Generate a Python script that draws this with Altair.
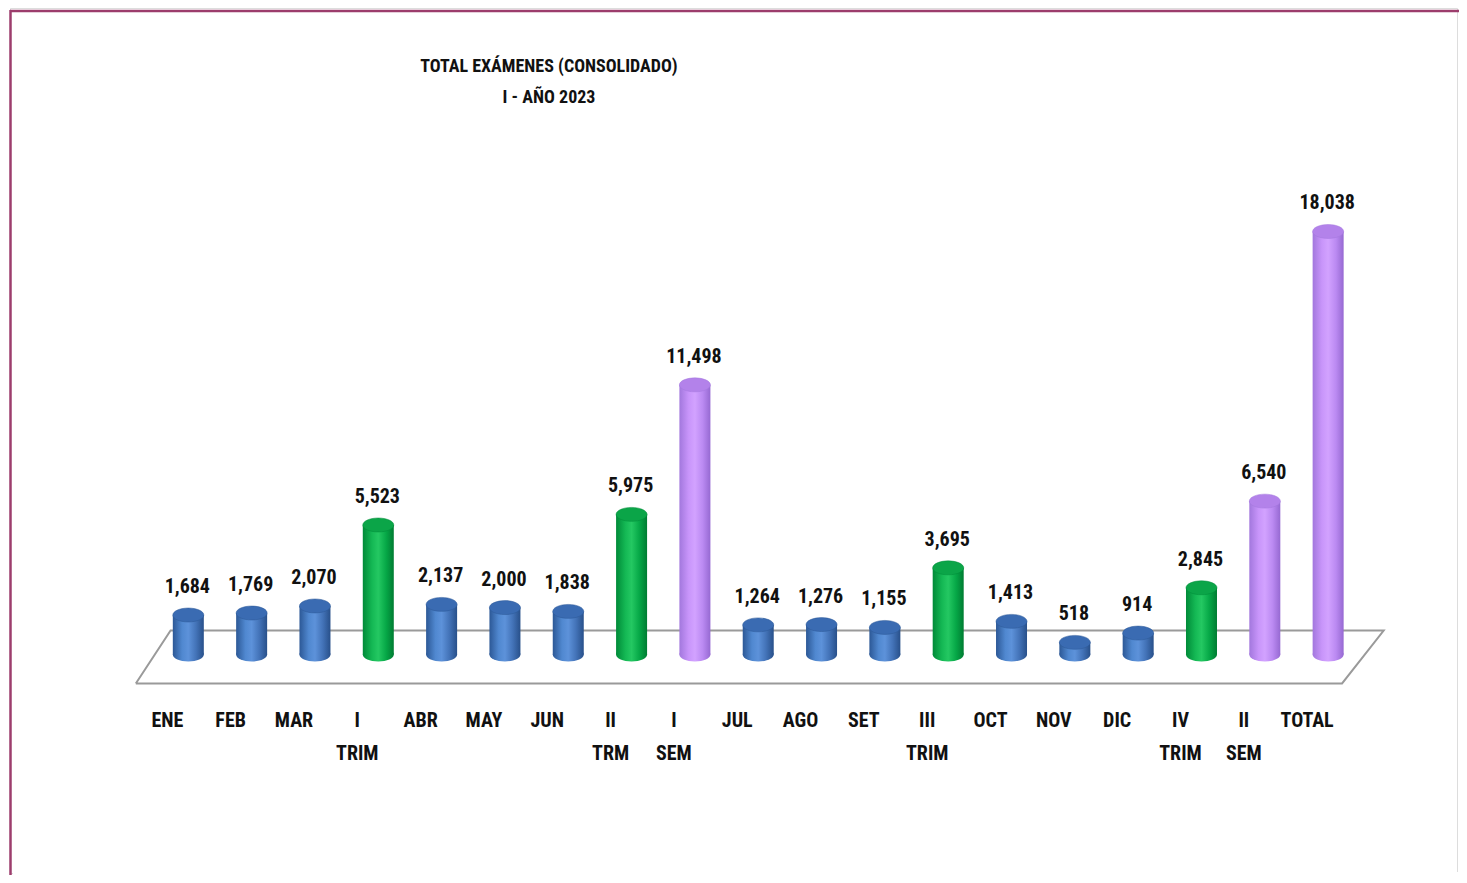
import altair as alt
import pandas as pd

# ---- data ----
categories = ["ENE", "FEB", "MAR", "I\nTRIM", "ABR", "MAY", "JUN", "II\nTRM", "I\nSEM",
              "JUL", "AGO", "SET", "III\nTRIM", "OCT", "NOV", "DIC", "IV\nTRIM", "II\nSEM", "TOTAL"]
values = [1684, 1769, 2070, 5523, 2137, 2000, 1838, 5975, 11498,
          1264, 1276, 1155, 3695, 1413, 518, 914, 2845, 6540, 18038]
kinds = ["mes", "mes", "mes", "trim", "mes", "mes", "mes", "trim", "sem",
         "mes", "mes", "mes", "trim", "mes", "mes", "mes", "trim", "sem", "sem"]
title_lines = ["TOTAL EXÁMENES (CONSOLIDADO)", "I - AÑO 2023"]

df = pd.DataFrame({
    "idx": list(range(len(categories))),
    "cat": categories,
    "value": values,
    "kind": kinds,
})
df["label"] = df["value"].map(lambda v: f"{v:,}")

W, H = 1451, 867
X_DOMAIN = [-2.737, 19.956]
Y_DOMAIN = [-9317, 27567]

x = alt.X("idx:Q", axis=None, scale=alt.Scale(domain=X_DOMAIN, nice=False, zero=False))
y = alt.Y("value:Q", axis=None, scale=alt.Scale(domain=Y_DOMAIN, nice=False, zero=False))

FONT = "Roboto Condensed, Noto Sans Condensed, Roboto, sans-serif"
ELLIPSE = "M-1,0A1,0.45,0,1,1,1,0A1,0.45,0,1,1,-1,0Z"
BAR_W = 31

styles = {
    "mes": (["#2c5896", "#5088d0", "#5d92da", "#4373b8", "#28508a"], "#3a6bb2"),
    "trim": (["#008a38", "#14b854", "#24c862", "#06a847", "#007c32"], "#0ba548"),
    "sem": (["#a277dd", "#c895fa", "#d2a2ff", "#bb8af2", "#9669d2"], "#b382ea"),
}

def grad(cols):
    offs = [0, 0.3, 0.5, 0.75, 1]
    return alt.Gradient(gradient="linear", x1=0, x2=1, y1=0, y2=0,
                        stops=[alt.GradientStop(color=c, offset=o) for c, o in zip(cols, offs)])

# floor parallelogram (decoration)
floor = pd.DataFrame({
    "fx": [-0.829, 18.22, 18.877, -0.28, -0.829],
    "fy": [-1234, -1234, 1021, 1021, -1234],
    "o": [0, 1, 2, 3, 4],
})
floor_layer = alt.Chart(floor).mark_line(color="#9a9a9a", strokeWidth=2).encode(
    x=alt.X("fx:Q", axis=None, scale=alt.Scale(domain=X_DOMAIN, nice=False, zero=False)),
    y=alt.Y("fy:Q", axis=None, scale=alt.Scale(domain=Y_DOMAIN, nice=False, zero=False)),
    order="o:Q",
)

base = alt.Chart(df)
layers = [floor_layer]
for kind, (cols, cap) in styles.items():
    sub = base.transform_filter(alt.datum.kind == kind)
    g = grad(cols)
    bottom = sub.mark_point(shape=ELLIPSE, filled=True, size=BAR_W * BAR_W, opacity=1,
                            fill=g, strokeWidth=0).encode(x=x, y=alt.Y("z:Q", axis=None,
                            scale=alt.Scale(domain=Y_DOMAIN, nice=False, zero=False))).transform_calculate(z="0")
    body = sub.mark_bar(size=BAR_W, fill=g).encode(x=x, y=y, y2=alt.datum(0))
    top = sub.mark_point(shape=ELLIPSE, filled=True, size=BAR_W * BAR_W, opacity=1,
                         fill=cap, stroke=cols[0], strokeWidth=0.5).encode(x=x, y=y)
    layers += [bottom, body, top]

value_labels = base.mark_text(font=FONT, fontSize=20, fontWeight="bold", color="#111111",
                              baseline="alphabetic", dy=-22, dx=-1).encode(x=x, y=y, text="label:N")

cat_labels = base.mark_text(font=FONT, fontSize=20, fontWeight="bold", color="#111111",
                            baseline="top", lineBreak="\n", lineHeight=33, dx=-21).encode(
    x=x, y=alt.Y("ly:Q", axis=None, scale=alt.Scale(domain=Y_DOMAIN, nice=False, zero=False)),
    text="cat:N").transform_calculate(ly="-2390")

title_df = pd.DataFrame({"t": ["\n".join(title_lines)]})
title_layer = alt.Chart(title_df).mark_text(font=FONT, fontSize=18, fontWeight="bold",
                                            color="#111111", baseline="top", lineBreak="\n",
                                            lineHeight=31, align="center").encode(
    x=alt.value(539), y=alt.value(50), text="t:N")

frame_top = alt.Chart(title_df).mark_rule(color="#9c3d6c", strokeWidth=2.5).encode(
    x=alt.value(0), x2=alt.value(W), y=alt.value(3))
frame_left = alt.Chart(title_df).mark_rule(color="#9c3d6c", strokeWidth=2.5).encode(
    x=alt.value(0.5), y=alt.value(2), y2=alt.value(H))
# white edges on the right and bottom
edge_right = alt.Chart(title_df).mark_rule(color="white", strokeWidth=4).encode(
    x=alt.value(W - 1), y=alt.value(6), y2=alt.value(H))
edge_bottom = alt.Chart(title_df).mark_rule(color="white", strokeWidth=4).encode(
    x=alt.value(3), x2=alt.value(W), y=alt.value(H - 1))

chart = alt.layer(*layers, value_labels, cat_labels, title_layer, edge_right, edge_bottom,
                  frame_top, frame_left).properties(
    width=W, height=H, padding=0,
    autosize=alt.AutoSizeParams(type="fit", contains="padding"),
).configure_view(strokeWidth=0, stroke="transparent").configure(background="white")

chart.save("out.html", embed_options={"renderer": "svg", "actions": False})
